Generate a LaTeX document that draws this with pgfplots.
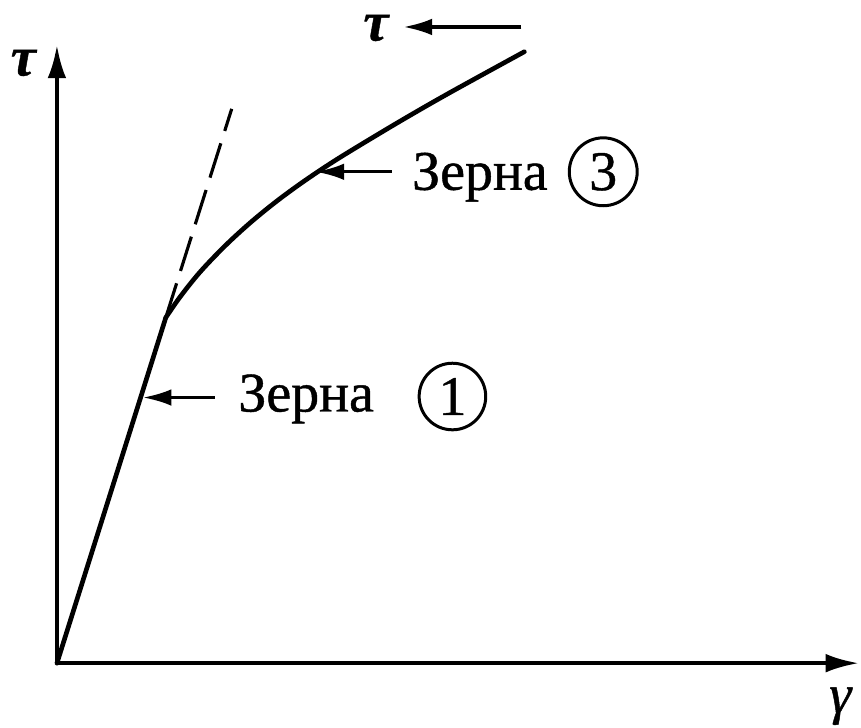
\documentclass[border=0pt]{standalone}
\usepackage{fontspec}
\setmainfont{Liberation Serif}[FakeBold=0.8]
\usepackage{pgfplots}
\pgfplotsset{compat=1.18}
\usetikzlibrary{arrows.meta}

\begin{document}
\begin{tikzpicture}[font=\fontsize{16.8}{20}\selectfont]
\begin{axis}[
  x=0.3pt, y=0.3pt,
  xmin=0, xmax=803, ymin=0, ymax=619,
  enlargelimits=false,
  axis lines=left,
  axis line style={line width=1.25pt, -{Latex[length=10pt,width=5.6pt]}},
  xtick=\empty, ytick=\empty,
  clip=false,
]
% overall drawing area
\path (axis cs:-57,-64) rectangle (axis cs:804,664);

% elastic (linear) stage
\addplot[line width=1.4pt, line cap=round, no marks] coordinates {(0,0) (109,346)};
% hardening stage after the kink
\addplot[line width=1.4pt, line cap=round, no marks, smooth, tension=0.55] coordinates {
  (109,346) (123,366.3) (143,391.3) (168,417.5) (193,440.5) (218,461)
  (243,479.5) (268,496.5) (293,512.3) (343,542.3) (393,571) (468,612.2)
};
% continuation of the linear stage
\addplot[line width=0.95pt, no marks, dash pattern=on 10.8pt off 3.9pt] coordinates {(109,346) (175,555)};

% annotations
\draw[line width=1pt, -{Latex[length=8.6pt,width=5pt]}] (axis cs:335,492) -- (axis cs:259,492);
\node[anchor=base west, inner sep=0pt] at (axis cs:355,474) {Зерна};
\draw[line width=0.9pt] (axis cs:547,492) circle[radius=10.2pt];
\node[inner sep=0pt] at (axis cs:547,492) {3};

\draw[line width=1pt, -{Latex[length=8.6pt,width=5pt]}] (axis cs:158,266) -- (axis cs:86,266);
\node[anchor=base west, inner sep=0pt] at (axis cs:181,252) {Зерна};
\draw[line width=0.9pt] (axis cs:396,267) circle[radius=10pt];
\node[inner sep=0pt] at (axis cs:396,267) {1};

\draw[line width=1pt, -{Latex[length=8.6pt,width=5pt]}] (axis cs:465,637) -- (axis cs:347,637);
\node[inner sep=0pt] at (axis cs:320,636) {\textit{\textbf{τ}}};

% axis names
\node[inner sep=0pt] at (axis cs:-33,601) {\textit{\textbf{τ}}};
\node[inner sep=0pt] at (axis cs:785,-43) {\textit{γ}};
\end{axis}
\end{tikzpicture}
\end{document}
